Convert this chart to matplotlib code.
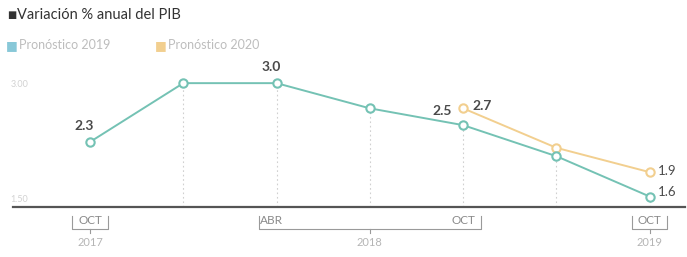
import matplotlib
matplotlib.use("Agg")
from matplotlib import pyplot as plt
import numpy as np

plt.rcParams['font.family'] = ['Lato', 'DejaVu Sans']

# data
periods = np.arange(7)
forecast_2019 = [2.3, 3.0, 3.0, 2.7, 2.5, 2.13, 1.65]
forecast_2020 = [None, None, None, None, 2.7, 2.23, 1.94]
labels_2019 = {0: "2.3", 2: "3.0", 4: "2.5", 6: "1.6"}
labels_2020 = {4: "2.7", 6: "1.9"}
month_labels = {0: "OCT", 2: "ABR", 4: "OCT", 6: "OCT"}
year_groups = [("2017", 0, 0), ("2018", 2, 4), ("2019", 6, 6)]
ytick_vals = [3.0, 1.5]
ytick_text = ["3.00", "1.50"]

teal = "#74c2b4"
orange = "#f2cf8f"
dark = "#4a4a4a"

fig = plt.figure(figsize=(6.87, 2.57), dpi=100)
ax = fig.add_axes([0, 0, 1, 1])
ax.set_xlim(-0.965, 6.40)
ax.set_ylim(0.93, 3.99)
ax.axis("off")

base = 1.52

# dotted drop lines
for i in periods[1:]:
    top = forecast_2019[i]
    ax.plot([i, i], [base, top], color="#d0d0d0", lw=0.8, ls=(0, (1.5, 2.5)), zorder=1)

# baseline
ax.plot([-0.83, 6.38], [base, base], color="#555555", lw=1.6, zorder=2)

# y labels
for v, t in zip(ytick_vals, ytick_text):
    ax.text(-0.76, v - 0.02 if v > 2 else v + 0.12, t, color="#d2d2d2", fontsize=6.5,
            ha="center", va="center")

# series
x20 = [i for i, v in zip(periods, forecast_2020) if v is not None]
y20 = [v for v in forecast_2020 if v is not None]
ax.plot(x20, y20, color=orange, lw=1.4, marker="o", ms=6, mfc="white",
        mec=orange, mew=1.5, zorder=3)
ax.plot(periods, forecast_2019, color=teal, lw=1.4, marker="o", ms=6, mfc="white",
        mec=teal, mew=1.5, zorder=4)

# value labels
for i, t in labels_2019.items():
    if i == 6:
        ax.annotate(t, (i, forecast_2019[i]), xytext=(6, 3), textcoords="offset points",
                    fontsize=9.5, color=dark, ha="left", va="center")
    elif i == 4:
        ax.annotate(t, (i, forecast_2019[i]), xytext=(-8, 6), textcoords="offset points",
                    fontsize=10, color=dark, fontweight="bold", ha="right", va="bottom")
    else:
        ax.annotate(t, (i, forecast_2019[i]), xytext=(-4, 7), textcoords="offset points",
                    fontsize=10, color=dark, fontweight="bold", ha="center", va="bottom")
for i, t in labels_2020.items():
    if i == 6:
        ax.annotate(t, (i, forecast_2020[i]), xytext=(6, 1), textcoords="offset points",
                    fontsize=9.5, color=dark, ha="left", va="center")
    else:
        ax.annotate(t, (i, forecast_2020[i]), xytext=(7, 2), textcoords="offset points",
                    fontsize=10, color=dark, fontweight="bold", ha="left", va="center")

# month labels and brackets
for i, t in month_labels.items():
    off = -0.06 if t == "ABR" else 0
    ax.text(i + off, 1.37, t, color="#8a8a8a", fontsize=8.5, ha="center", va="center")
br_top, br_bot = 1.42, 1.26
for name, a, b in year_groups:
    x0, x1 = a - 0.19, b + 0.19
    ax.plot([x0, x0, x1, x1], [br_top, br_bot, br_bot, br_top], color="#9a9a9a", lw=0.8)
    xm = (x0 + x1) / 2
    ax.plot([xm, xm], [br_bot, br_bot - 0.04], color="#9a9a9a", lw=0.8)
    ax.text(xm, 1.10, name, color="#b5b5b5", fontsize=8, ha="center", va="center")

# title and legend
fig.text(0.011, 0.94, "\u25A0", color="#333333", fontsize=7, ha="left", va="center")
fig.text(0.025, 0.94, "Variación % anual del PIB", color="#333333", fontsize=10.5,
         ha="left", va="center")
fig.text(0.009, 0.825, "\u25A0", color="#88c8d8", fontsize=9, ha="left", va="center")
fig.text(0.027, 0.825, "Pronóstico 2019", color="#bdbdbd", fontsize=9, ha="left", va="center")
fig.text(0.226, 0.825, "\u25A0", color=orange, fontsize=9, ha="left", va="center")
fig.text(0.244, 0.825, "Pronóstico 2020", color="#bdbdbd", fontsize=9, ha="left", va="center")

fig.savefig("out.png", dpi=100, facecolor="white")
